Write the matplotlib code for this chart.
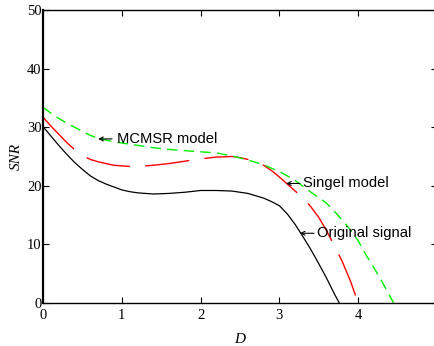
import matplotlib
matplotlib.use("Agg")
import matplotlib.pyplot as plt

# Data
orig_x = [0.0, 0.1, 0.2, 0.3, 0.4, 0.5, 0.6, 0.7, 0.8, 0.9, 1.0, 1.1, 1.2, 1.4, 1.6, 1.8, 2.0, 2.2, 2.4, 2.6, 2.8, 2.9, 3.0, 3.1, 3.2, 3.3, 3.4, 3.5, 3.6, 3.7, 3.76]
orig_y = [30.1, 28.5, 26.9, 25.4, 24.0, 22.8, 21.7, 20.9, 20.3, 19.8, 19.3, 19.0, 18.8, 18.6, 18.7, 18.9, 19.2, 19.2, 19.1, 18.7, 17.9, 17.3, 16.6, 15.2, 13.4, 11.3, 9.1, 6.7, 4.2, 1.5, 0.0]

single_x = [0.0, 0.1, 0.2, 0.3, 0.4, 0.5, 0.6, 0.7, 0.8, 0.9, 1.0, 1.1, 1.2, 1.4, 1.6, 1.8, 2.0, 2.2, 2.4, 2.5, 2.6, 2.7, 2.8, 2.9, 3.0, 3.1, 3.2, 3.3, 3.4, 3.5, 3.6, 3.7, 3.8, 3.9, 4.0]
single_y = [31.7, 30.2, 28.8, 27.4, 26.2, 25.2, 24.5, 24.1, 23.8, 23.5, 23.4, 23.3, 23.3, 23.5, 23.8, 24.2, 24.6, 24.9, 25.0, 24.8, 24.5, 24.0, 23.5, 22.6, 21.5, 20.3, 19.1, 18.0, 16.4, 14.6, 12.3, 9.7, 7.0, 3.8, 0.0]

mcmsr_x = [0.0, 0.1, 0.2, 0.3, 0.4, 0.5, 0.6, 0.7, 0.8, 0.9, 1.0, 1.2, 1.4, 1.6, 1.8, 2.0, 2.2, 2.4, 2.6, 2.8, 3.0, 3.1, 3.2, 3.3, 3.4, 3.5, 3.6, 3.7, 3.8, 3.9, 4.0, 4.1, 4.2, 4.3, 4.45]
mcmsr_y = [33.4, 32.4, 31.5, 30.7, 30.0, 29.3, 28.6, 28.1, 27.8, 27.5, 27.3, 26.9, 26.5, 26.2, 26.0, 25.8, 25.6, 25.1, 24.4, 23.6, 22.4, 21.7, 20.9, 19.9, 18.9, 18.0, 17.0, 15.6, 14.1, 12.5, 10.6, 8.2, 6.0, 3.7, 0.0]

xticks = [0, 1, 2, 3, 4, 5]
xticklabels = ['0', '1', '2', '3', '4', '']
yticks = [0, 10, 20, 30, 40, 50]

# annotation labels: (text, arrow tip, arrow tail, text start)
notes = [('MCMSR model', (0.70, 28.0), (0.876, 28.0), (0.936, 28.0)),
         ('Singel model', (3.086, 20.4), (3.26, 20.4), (3.30, 20.4)),
         ('Original signal', (3.26, 11.9), (3.44, 11.9), (3.475, 11.9))]

fig = plt.figure(figsize=(4.35, 3.46), dpi=100)
ax = fig.add_axes([43/435, 43/346, 394/435, 293/346])

ax.plot(orig_x, orig_y, color='black', lw=0.9)
ax.plot(single_x, single_y, color='red', lw=1.0, dashes=(32, 11))
ax.plot(mcmsr_x, mcmsr_y, color='#00ee00', lw=1.0, dashes=(7.5, 4.5))

ax.set_xlim(0, 5)
ax.set_ylim(0, 50)
ax.set_xticks(xticks)
ax.set_xticklabels(xticklabels)
ax.set_yticks(yticks)
ax.tick_params(direction='in', length=4, top=True, right=True, width=0.8)
for lab in ax.get_xticklabels() + ax.get_yticklabels():
    lab.set_fontfamily('Liberation Serif')
    lab.set_fontsize(10.5)
ax.tick_params(axis='x', pad=4)
ax.tick_params(axis='y', pad=1)
for s in ax.spines.values():
    s.set_linewidth(1.0)
ax.spines['left'].set_linewidth(1.6)

ax.set_xlabel('D', fontfamily='Liberation Serif', fontstyle='italic', fontsize=11, labelpad=8)
ax.set_ylabel('SNR', fontfamily='Liberation Serif', fontstyle='italic', fontsize=11, labelpad=3)

for txt, tip, tail, pos in notes:
    ax.annotate('', xy=tip, xytext=tail,
                arrowprops=dict(arrowstyle='->', lw=0.8, color='black',
                                shrinkA=0, shrinkB=0, mutation_scale=7))
    ax.text(pos[0], pos[1], txt, family='Liberation Sans', fontsize=10.6,
            ha='left', va='center')

fig.savefig('out.png', dpi=100)
